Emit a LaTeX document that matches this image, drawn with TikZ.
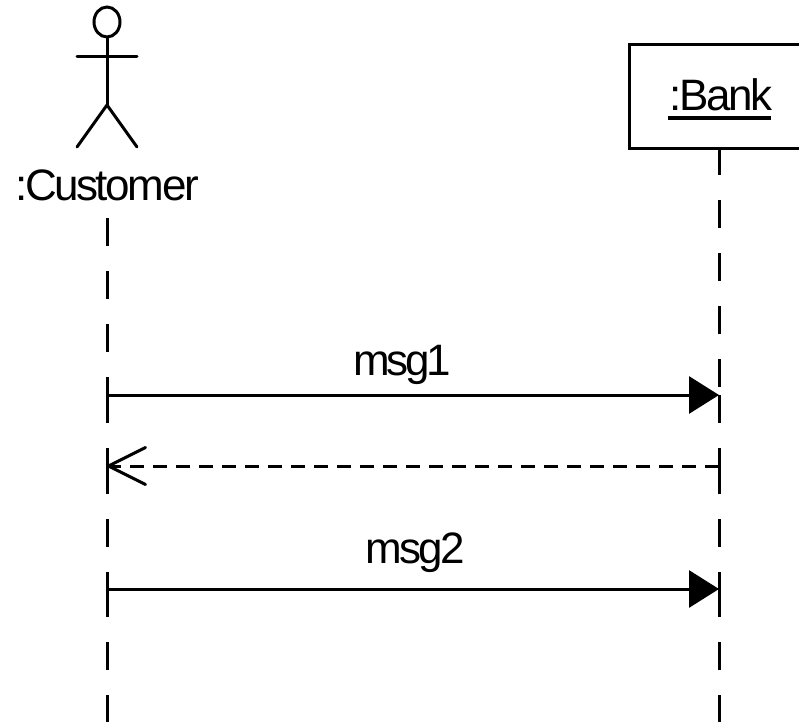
\documentclass[tikz,border=0pt]{standalone}
\usepackage{fontspec}
\setmainfont{Liberation Sans}[LetterSpace=-5.5]
\usetikzlibrary{arrows.meta,shapes.geometric}
\tikzset{
  lbl/.style={font=\fontsize{44}{44}\selectfont,inner sep=0pt,anchor=base},
  life/.style={line width=3pt,dash pattern=on 28pt off 25pt},
  figure/.style={line width=3pt,line cap=round},
  call/.style={line width=3pt,-{Triangle[length=30pt,width=37pt]}},
  reply/.style={line width=3pt,dash pattern=on 14pt off 9pt,-{Straight Barb[length=37pt,width=37pt,round]}}
}
\begin{document}
\begin{tikzpicture}[x=1pt,y=-1pt]
   \useasboundingbox (0,0) rectangle (799,722);
   \clip (0,0) rectangle (799,722);
   % actor
   \coordinate (hip) at (107,105);
   \coordinate (armL) at (77,57);
   \coordinate (armR) at (137,57);
   \coordinate (legL) at (77,147);
   \coordinate (legR) at (137,147);
   \node[draw,figure,ellipse,minimum width=26pt,minimum height=30pt,inner sep=0pt] (head) at (107,22) {};
   \draw[figure] (head.south) -- (hip);
   \draw[figure] (armL) -- (armR);
   \draw[figure] (legL) -- (hip) -- (legR);
   \node[lbl] (customer) at (107,200) {:Customer};
   % box
   \node[draw,line width=3pt,minimum width=180pt,minimum height=104pt,anchor=north west,inner sep=0pt] (bank) at (628,43) {};
   \node[lbl] (banklbl) at (721,111) {:Bank};
   \coordinate (ulL) at (668,118);
   \coordinate (ulR) at (771,118);
   \draw[line width=4pt] (ulL) -- (ulR);
   % lifelines
   \coordinate (c0) at (107,218);
   \coordinate (c1) at (107,395);
   \coordinate (c2) at (107,466);
   \coordinate (c3) at (107,589);
   \coordinate (c4) at (107,722);
   \coordinate (b0) at (719,147);
   \coordinate (b1) at (719,395);
   \coordinate (b2) at (719,466);
   \coordinate (b3) at (719,589);
   \coordinate (b4) at (719,722);
   \draw[life] (c0) -- (c1);
   \draw[life] (c1) -- (c2);
   \draw[life] (c2) -- (c3);
   \draw[life] (c3) -- (c4);
   \draw[life] (b0) -- (b1);
   \draw[life] (b1) -- (b2);
   \draw[life] (b2) -- (b3);
   \draw[life] (b3) -- (b4);
   % messages
   \draw[call] (c1) -- (b1);
   \draw[reply] (b2) -- (c2);
   \draw[call] (c3) -- (b3);
   \node[lbl] (msg1) at (402,375) {\addfontfeature{LetterSpace=-8}msg1};
   \node[lbl] (msg2) at (415,563) {\addfontfeature{LetterSpace=-6.5}msg2};
  \end{tikzpicture}
\end{document}
